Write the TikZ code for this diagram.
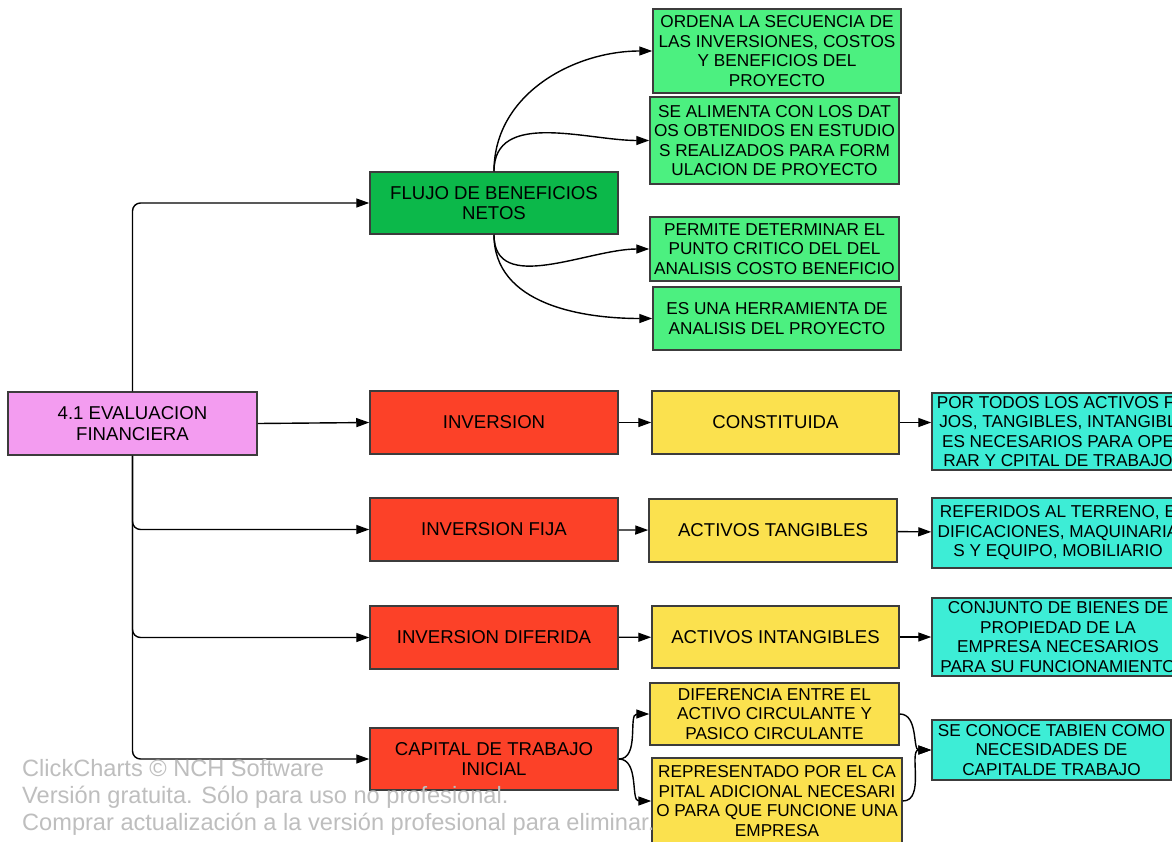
\documentclass[tikz,border=0pt]{standalone}
\usepackage{fontspec}
\setmainfont{Liberation Sans}
\usetikzlibrary{arrows.meta}

\definecolor{boxgray}{RGB}{60,60,60}
\definecolor{evalpink}{RGB}{243,156,240}
\definecolor{flujogreen}{RGB}{12,184,74}
\definecolor{notegreen}{RGB}{76,240,128}
\definecolor{invred}{RGB}{252,65,40}
\definecolor{activyellow}{RGB}{251,225,78}
\definecolor{notecyan}{RGB}{61,237,214}
\definecolor{wmgray}{RGB}{190,190,190}

\begin{document}
\begin{tikzpicture}
[
 x=1pt, y=-1pt,
  >={Triangle[length=13pt,width=9pt]},
  box/.style = {draw=boxgray, line width=1.5pt, align=center, inner sep=0pt,
                minimum width=248pt, minimum height=63pt,
                font=\fontsize{18.6}{20.5}\selectfont},
  note/.style = {box, font=\fontsize{17.2}{19.5}\selectfont},
  link/.style = {->, line width=1.4pt},
]
\fill[white] (0,0) rectangle (1172,841);
\useasboundingbox (0,0) rectangle (1172,841);

\node (evaluacion) at (132.5,423.5) [box, fill=evalpink, minimum width=249pt] {4.1 EVALUACION\\FINANCIERA};

\node (flujo) at (494,203) [box, fill=flujogreen, minimum height=62pt] {FLUJO DE BENEFICIOS\\NETOS};
\node (inversion) at (494,422.5) [box, fill=invred] {INVERSION};
\node (fija) at (494,529.5) [box, fill=invred] {INVERSION FIJA};
\node (diferida) at (494,637.5) [box, fill=invred] {INVERSION DIFERIDA};
\node (capital) at (494,759) [box, fill=invred, minimum height=62pt] {CAPITAL DE TRABAJO\\INICIAL};

\node (ordena) at (777,51) [note, fill=notegreen, minimum height=84pt] {ORDENA LA SECUENCIA DE\\LAS INVERSIONES, COSTOS\\Y BENEFICIOS DEL\\PROYECTO};
\node (alimenta) at (774.5,140.5) [note, fill=notegreen, minimum width=249pt, minimum height=87pt] {SE ALIMENTA CON LOS DAT\\OS OBTENIDOS EN ESTUDIO\\S REALIZADOS PARA FORM\\ULACION DE PROYECTO};
\node (permite) at (774.5,249) [note, fill=notegreen, minimum width=249pt, minimum height=64pt] {PERMITE DETERMINAR EL\\PUNTO CRITICO DEL DEL\\ANALISIS COSTO BENEFICIO};
\node (herramienta) at (777,318.5) [note, fill=notegreen] {ES UNA HERRAMIENTA DE\\ANALISIS DEL PROYECTO};

\node (constituida) at (775.5,422.5) [box, fill=activyellow, minimum width=247pt] {CONSTITUIDA};
\node (tangibles) at (773,530.5) [box, fill=activyellow] {ACTIVOS TANGIBLES};
\node (intangibles) at (775.5,637) [box, fill=activyellow, minimum width=247pt, minimum height=62pt] {ACTIVOS INTANGIBLES};
\node (diferencia) at (774.5,714) [note, fill=activyellow, minimum width=249pt, minimum height=62pt] {DIFERENCIA ENTRE EL\\ACTIVO CIRCULANTE Y\\PASICO CIRCULANTE};
\node (representado) at (777,801) [note, fill=activyellow, minimum width=250pt, minimum height=86pt] {REPRESENTADO POR EL CA\\PITAL ADICIONAL NECESARI\\O PARA QUE FUNCIONE UNA\\EMPRESA};

\node (activos) at (1058,431.5) [note, fill=notecyan, minimum width=252pt, minimum height=77pt] {POR TODOS LOS ACTIVOS FI\\JOS, TANGIBLES, INTANGIBL\\ES NECESARIOS PARA OPE\\RAR Y CPITAL DE TRABAJO};
\node (referidos) at (1058,533) [note, fill=notecyan, minimum width=252pt, minimum height=70pt] {REFERIDOS AL TERRENO, E\\DIFICACIONES, MAQUINARIA\\S Y EQUIPO, MOBILIARIO};
\node (conjunto) at (1058,637) [note, fill=notecyan, minimum width=252pt, minimum height=78pt] {CONJUNTO DE BIENES DE\\PROPIEDAD DE LA\\EMPRESA NECESARIOS\\PARA SU FUNCIONAMIENTO};
\node (necesidades) at (1051.5,750) [note, fill=notecyan, minimum width=239pt, minimum height=60pt] {SE CONOCE TABIEN COMO\\NECESIDADES DE\\CAPITALDE TRABAJO};

\draw[link, rounded corners=8pt] (evaluacion.north) |- (flujo.west);
\draw[link] (evaluacion.east) -- (inversion.west);
\draw[link, rounded corners=8pt] (evaluacion.south) |- (fija.west);
\draw[link, rounded corners=8pt] (evaluacion.south) |- (diferida.west);
\draw[link, rounded corners=8pt] (evaluacion.south) |- (capital.west);

\draw[link] (flujo.north) to[out=90,in=180] (ordena.west);
\draw[link] (flujo.north) to[out=90,in=180] (alimenta.west);
\draw[link] (flujo.south) to[out=-90,in=180] (permite.west);
\draw[link] (flujo.south) to[out=-90,in=180] (herramienta.west);

\draw[link] (inversion) -- (constituida);
\draw[link] (constituida) -- (activos.west |- constituida);
\draw[link] (fija) -- (tangibles);
\draw[link] (tangibles) -- (referidos);
\draw[link] (diferida) -- (intangibles);
\draw[link] (intangibles) -- (conjunto);

\draw[link] (capital.east) to[out=0,in=180] (diferencia.west);
\draw[link] (capital.east) to[out=0,in=180] (representado.west);
\draw[link] (diferencia.east) to[out=0,in=180] (necesidades.west);
\draw[link] (representado.east) to[out=0,in=180] (necesidades.west);

\node (marca) at (22,797) [anchor=west, align=left, text=wmgray, inner sep=0pt,
  font=\fontsize{23.6}{27}\selectfont] {ClickCharts © NCH Software\\Versión gratuita. Sólo para uso no profesional.\\Comprar actualización a la versión profesional para eliminar.};

\end{tikzpicture}
\end{document}
